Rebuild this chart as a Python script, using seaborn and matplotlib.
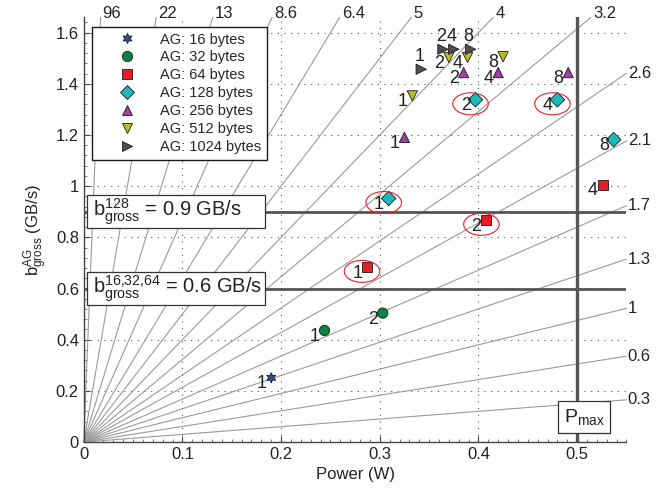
import numpy as np
import pandas as pd
import matplotlib
matplotlib.use("Agg")
import matplotlib.pyplot as plt
import seaborn as sns
from matplotlib.patches import Ellipse, Rectangle
from matplotlib.lines import Line2D
from matplotlib.ticker import MultipleLocator, FormatStrFormatter

# access granularity sizes and their styles
ag_sizes = [16, 32, 64, 128, 256, 512, 1024]
ag_colors = ["#2f4b9c", "#0b8341", "#ea1d27", "#1fb8b8", "#a23fa2", "#bcbc1f", "#505050"]
ag_markers = [(6, 1, 0), "o", "s", "D", "^", "v", ">"]

# measured points: AG size, power (W), gross bandwidth (GB/s), count label
point_ag = [16, 32, 32, 64, 64, 64, 128, 128, 128, 128,
            256, 256, 256, 256, 512, 512, 512, 512, 1024, 1024, 1024, 1024]
point_power = [0.190, 0.244, 0.303, 0.287, 0.408, 0.526,
               0.309, 0.397, 0.480, 0.537,
               0.325, 0.385, 0.420, 0.491,
               0.333, 0.370, 0.389, 0.425,
               0.342, 0.364, 0.375, 0.392]
point_bw = [0.251, 0.436, 0.504, 0.683, 0.867, 1.006,
            0.952, 1.338, 1.338, 1.182,
            1.191, 1.444, 1.444, 1.444,
            1.353, 1.503, 1.503, 1.506,
            1.457, 1.535, 1.535, 1.535]
point_count = [1, 1, 2, 1, 2, 4, 1, 2, 4, 8, 1, 2, 4, 8, 1, 2, 4, 8, 1, 2, 4, 8]

# circled points (AG size, count)
highlights = [(64, 1), (64, 2), (128, 1), (128, 2), (128, 4)]

# efficiency rays (GB/s per W)
ray_slopes = [97, 22.6, 12.7, 8.7, 6.4, 5.0, 4.0, 3.23,
              2.62, 2.14, 1.68, 1.3, 0.95, 0.61, 0.3]
ray_labels = ["96", "22", "13", "8.6", "6.4", "5", "4", "3.2",
              "2.6", "2.1", "1.7", "1.3", "1", "0.6", "0.3"]

gross_bw = [0.9, 0.6]
gross_tags = ["128", "16{,}32{,}64"]
p_max = 0.5

xmax, ymax = 0.55, 1.66

sns.set_theme(style="white")
plt.rcParams["font.family"] = ["Liberation Sans", "DejaVu Sans"]
plt.rcParams["mathtext.fontset"] = "custom"
plt.rcParams["mathtext.rm"] = "Liberation Sans"
plt.rcParams["mathtext.it"] = "Liberation Sans:italic"
plt.rcParams["mathtext.bf"] = "Liberation Sans:bold"

fig = plt.figure(figsize=(6.7, 4.95), dpi=100)
ax = fig.add_axes([0.125, 0.107, 0.81, 0.858])

# rays from the origin
for s, lab in zip(ray_slopes, ray_labels):
    xe = min(xmax, ymax / s)
    ax.plot([0, xe], [0, s * xe], color="#9a9a9a", lw=0.8, zorder=1, clip_on=False)
    if xe < xmax:
        ax.annotate(lab, (xe, ymax), xytext=(1.5, -3), textcoords="offset points",
                    ha="left", va="bottom", fontsize=12, color="#222222",
                    annotation_clip=False)
    else:
        ax.annotate(lab, (xmax, s * xe), xytext=(1, 0), textcoords="offset points",
                    ha="left", va="center", fontsize=12, color="#222222",
                    annotation_clip=False)

# limits: max power and gross bandwidths
ax.plot([p_max, p_max], [0, ymax], color="#555555", lw=2.4, zorder=3)
for g in gross_bw:
    ax.plot([0, xmax], [g, g], color="#555555", lw=2.0, zorder=3)

for g, tag in zip(gross_bw, gross_tags):
    ax.add_patch(Rectangle((0.003, g - 0.064), 0.181, 0.128, fc="white",
                           ec="#333333", lw=0.9, zorder=4))
    ax.text(0.009, g, r"$\mathrm{b}^{%s}_{\mathrm{gross}}$ = %g GB/s" % (tag, g),
            ha="left", va="center", fontsize=14.5, color="#222222", zorder=4.5)
ax.text(p_max + 0.007, 0.097, r"$\mathrm{P}_{\mathrm{max}}$", ha="center", va="center",
        fontsize=14, color="#222222",
        bbox=dict(boxstyle="square,pad=0.3", fc="white", ec="#333333", lw=0.9), zorder=4)

df = pd.DataFrame({
    "ag": [f"AG: {a} bytes" for a in point_ag],
    "size": point_ag,
    "power": point_power,
    "bw": point_bw,
    "count": point_count,
})
order = [f"AG: {a} bytes" for a in ag_sizes]
sns.scatterplot(data=df, x="power", y="bw", hue="ag", style="ag",
                hue_order=order, style_order=order,
                palette=dict(zip(order, ag_colors)),
                markers=dict(zip(order, ag_markers)),
                s=55, edgecolor="k", linewidth=0.6, ax=ax, zorder=5)

for _, r in df.iterrows():
    off = (-1.5, 9.5) if r["size"] == 1024 else (-7, -4.3)
    ax.annotate(str(r["count"]), (r["power"], r["bw"]), xytext=off,
                textcoords="offset points", ha="center", va="center",
                fontsize=13, color="#222222", zorder=6)

for a, c in highlights:
    r = df[(df["size"] == a) & (df["count"] == c)].iloc[0]
    ax.add_patch(Ellipse((r["power"] - 0.005, r["bw"] - 0.016), 0.036, 0.086,
                         fill=False, ec="#e8202a", lw=0.8, zorder=6))

handles, labels = ax.get_legend_handles_labels()
for h in handles:
    if isinstance(h, Line2D):
        h.set_markeredgecolor("k")
        h.set_markeredgewidth(0.6)
leg = ax.legend(handles, labels, loc="upper left", bbox_to_anchor=(0.016, 0.978),
                fontsize=10.5, frameon=True, fancybox=False, framealpha=1,
                edgecolor="k", labelspacing=0.27, handlelength=4.0,
                handletextpad=0.25, borderpad=0.4, borderaxespad=0)
leg.get_frame().set_linewidth(1.0)
leg.set_zorder(10)

ax.set_xlim(0, xmax)
ax.set_ylim(0, ymax)
ax.xaxis.set_major_locator(MultipleLocator(0.1))
ax.xaxis.set_minor_locator(MultipleLocator(0.01))
ax.yaxis.set_major_locator(MultipleLocator(0.2))
ax.yaxis.set_minor_locator(MultipleLocator(0.04))
ax.xaxis.set_major_formatter(FormatStrFormatter("%g"))
ax.yaxis.set_major_formatter(FormatStrFormatter("%g"))
ax.grid(True, which="major", color="#555555", ls=(0, (1, 5)), lw=0.8, zorder=0)
ax.tick_params(which="major", direction="in", length=4, width=0.8, color="#444444",
               labelsize=12, labelcolor="#222222", left=True, bottom=True)
ax.tick_params(which="minor", direction="in", length=2, width=0.6, color="#666666",
               left=True, bottom=True)
for side in ["top", "right"]:
    ax.spines[side].set_visible(False)
for side in ["left", "bottom"]:
    ax.spines[side].set_color("#444444")
    ax.spines[side].set_linewidth(1.0)

ax.set_xlabel("Power (W)", fontsize=12, color="#222222", labelpad=4)
ax.set_ylabel(r"$\mathrm{b}^{\mathrm{AG}}_{\mathrm{gross}}$ (GB/s)", fontsize=12,
              color="#222222", labelpad=4)

fig.savefig("out.png", dpi=100)
